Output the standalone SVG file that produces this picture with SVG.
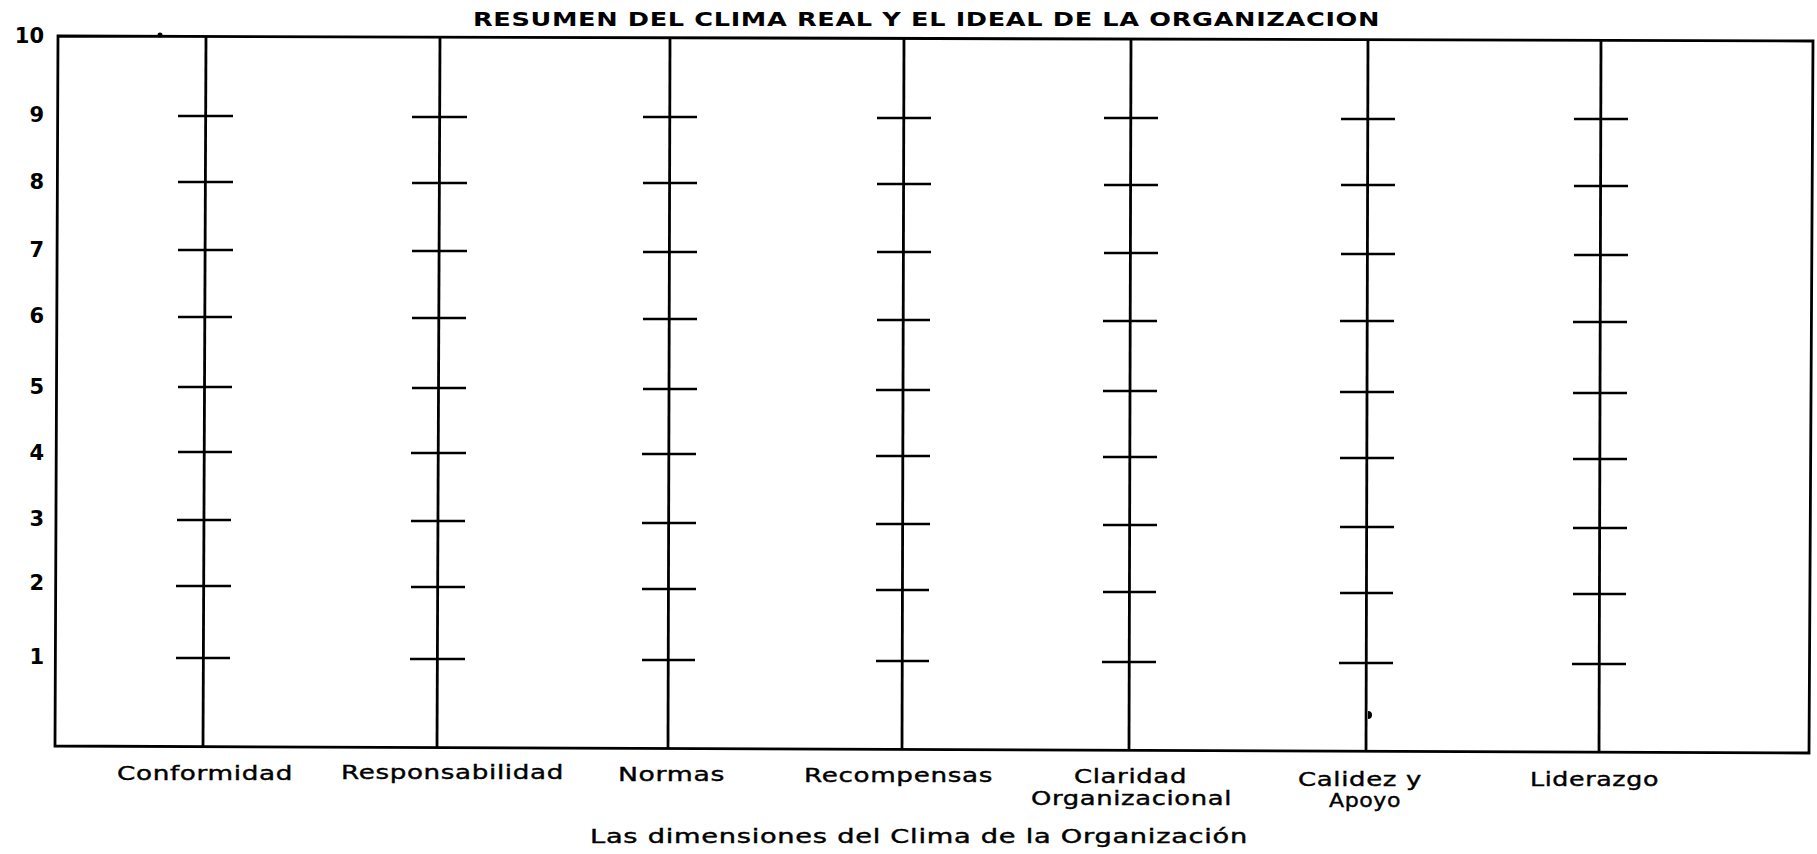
<svg xmlns="http://www.w3.org/2000/svg" width="1817" height="854" viewBox="0 0 1817 854">
<style>
.frame{fill:none;stroke:#000;stroke-width:2.8;stroke-linejoin:miter}
.axis{stroke:#000;stroke-width:2.8;fill:none}
.tick{stroke:#000;stroke-width:2.4;fill:none}
.ylab{font-family:"DejaVu Sans",sans-serif;font-weight:bold;font-size:21px;fill:#000;text-anchor:end}
.title{font-family:"DejaVu Sans",sans-serif;font-weight:bold;font-size:19.5px;fill:#000}
.cat{font-family:"DejaVu Sans",sans-serif;font-size:20px;fill:#000;stroke:#000;stroke-width:0.4}
.xlab{font-family:"DejaVu Sans",sans-serif;font-size:19px;fill:#000;stroke:#000;stroke-width:0.4}
</style>
<rect width="1817" height="854" fill="#fff"/>
<text class="title" x="473" y="26" textLength="907" lengthAdjust="spacingAndGlyphs" letter-spacing="0.5">RESUMEN DEL CLIMA REAL Y EL IDEAL DE LA ORGANIZACION</text>
<polygon class="frame" points="58,36 1813,41 1809,753 55,746"/>
<circle cx="160" cy="35" r="2.5" fill="#000"/>
<path d="M1368,711 a4,4 0 0 1 0,8 z" fill="#000"/>
<g id="yaxis">
<text class="ylab" x="44" y="43">10</text>
<text class="ylab" x="44" y="122">9</text>
<text class="ylab" x="44" y="189">8</text>
<text class="ylab" x="44" y="257">7</text>
<text class="ylab" x="44" y="323">6</text>
<text class="ylab" x="44" y="394">5</text>
<text class="ylab" x="44" y="460">4</text>
<text class="ylab" x="44" y="526">3</text>
<text class="ylab" x="44" y="590">2</text>
<text class="ylab" x="44" y="664">1</text>
</g>
<g id="col-conformidad">
<line class="axis" x1="206" y1="37" x2="203" y2="746"/>
<path class="tick" d="M178,116H233M178,182H233M178,250H233M178,317H232M178,387H232M178,452H232M177,520H231M176,586H231M176,658H230"/>
<text class="cat" x="117" y="780" textLength="176" lengthAdjust="spacingAndGlyphs" letter-spacing="0.5">Conformidad</text>
</g>
<g id="col-responsabilidad">
<line class="axis" x1="440" y1="37" x2="437" y2="747"/>
<path class="tick" d="M412,117H467M412,183H467M412,251H467M412,318H466M412,388H466M411,453H466M411,521H465M411,587H465M410,659H465"/>
<text class="cat" x="341" y="779" textLength="223" lengthAdjust="spacingAndGlyphs" letter-spacing="0.5">Responsabilidad</text>
</g>
<g id="col-normas">
<line class="axis" x1="670" y1="38" x2="668" y2="748"/>
<path class="tick" d="M643,117H697M643,183H697M643,252H697M643,319H697M643,389H697M642,454H696M642,523H696M642,589H696M642,660H695"/>
<text class="cat" x="618" y="781" textLength="107" lengthAdjust="spacingAndGlyphs" letter-spacing="0.5">Normas</text>
</g>
<g id="col-recompensas">
<line class="axis" x1="904" y1="38" x2="902" y2="749"/>
<path class="tick" d="M877,118H931M877,184H931M877,252H931M877,320H930M876,390H930M876,456H930M876,524H930M876,590H929M876,661H929"/>
<text class="cat" x="804" y="782" textLength="189" lengthAdjust="spacingAndGlyphs" letter-spacing="0.5">Recompensas</text>
</g>
<g id="col-claridad">
<line class="axis" x1="1131" y1="39" x2="1129" y2="750"/>
<path class="tick" d="M1104,118H1158M1104,185H1158M1104,253H1158M1103,321H1157M1103,391H1157M1103,457H1157M1103,525H1157M1103,592H1156M1102,662H1156"/>
<text class="cat" x="1074" y="783" textLength="113" lengthAdjust="spacingAndGlyphs" letter-spacing="0.5">Claridad</text>
<text class="cat" x="1031" y="805" textLength="201" lengthAdjust="spacingAndGlyphs" letter-spacing="0.5">Organizacional</text>
</g>
<g id="col-calidez">
<line class="axis" x1="1368" y1="40" x2="1366" y2="752"/>
<path class="tick" d="M1341,119H1395M1341,185H1395M1341,254H1395M1340,321H1394M1340,392H1394M1340,458H1394M1340,527H1394M1340,593H1393M1339,663H1393"/>
<text class="cat" x="1298" y="786" textLength="124" lengthAdjust="spacingAndGlyphs" letter-spacing="0.5">Calidez y</text>
<text class="cat" x="1329" y="807" textLength="72" lengthAdjust="spacingAndGlyphs" letter-spacing="0.5">Apoyo</text>
</g>
<g id="col-liderazgo">
<line class="axis" x1="1601" y1="41" x2="1599" y2="753"/>
<path class="tick" d="M1574,119H1628M1574,186H1628M1574,255H1628M1573,322H1627M1573,393H1627M1573,459H1627M1573,528H1627M1573,594H1626M1572,664H1626"/>
<text class="cat" x="1530" y="786" textLength="129" lengthAdjust="spacingAndGlyphs" letter-spacing="0.5">Liderazgo</text>
</g>
<text class="xlab" x="590" y="843" textLength="658" lengthAdjust="spacingAndGlyphs" letter-spacing="0.5">Las dimensiones del Clima de la Organización</text>
</svg>
